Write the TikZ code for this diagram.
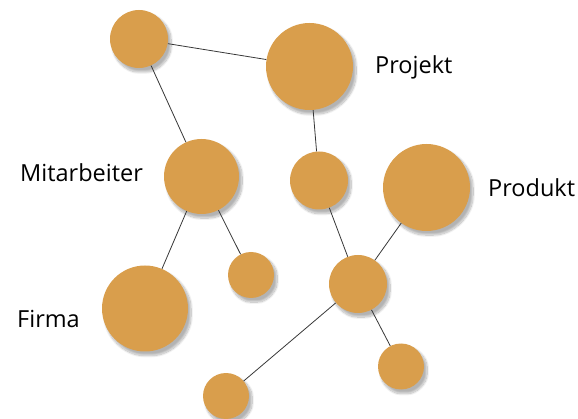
\documentclass[tikz,border=0pt]{standalone}
\usepackage{fontspec}
\setmainfont{Open Sans}
\usetikzlibrary{shadows.blur}
\definecolor{ball}{RGB}{217,158,76}
\definecolor{edge}{RGB}{55,55,55}
\tikzset{
  x=1pt,y=-1pt,
  ball/.style={circle,fill=ball,inner sep=0pt,minimum size=#1,
    blur shadow={shadow xshift=3pt,shadow yshift=-4pt,shadow blur steps=14,shadow blur extra rounding=4pt,shadow opacity=30}},
  link/.style={draw=edge,line width=0.8pt},
  lbl/.style={font=\fontsize{23.5}{28}\selectfont,inner sep=0pt,text=black}
}
\begin{document}
\begin{tikzpicture}
\useasboundingbox (0,0) rectangle (578,419);
\node[ball=58pt] (a) at (139,39) {};
\node[ball=87pt] (proj) at (309.5,66.5) {};
\node[ball=75pt] (mit) at (201.5,176.5) {};
\node[ball=58pt] (m) at (319,180.5) {};
\node[ball=87pt] (prod) at (426.5,187.5) {};
\node[ball=46pt] (s) at (251,275) {};
\node[ball=58pt] (c) at (358,284) {};
\node[ball=86pt] (firma) at (145,308.5) {};
\node[ball=46pt] (br) at (401,366.5) {};
\node[ball=46pt] (b) at (226,396) {};
\draw[link] (a) -- (proj);
\draw[link] (a) -- (mit);
\draw[link] (proj) -- (m);
\draw[link] (m) -- (c);
\draw[link] (prod) -- (c);
\draw[link] (mit) -- (firma);
\draw[link] (mit) -- (s);
\draw[link] (c) -- (br);
\draw[link] (c) -- (b);
\node[lbl,anchor=base west] (lp) at (375,74) {Projekt};
\node[lbl,anchor=base west] (lm) at (20,182) {Mitarbeiter};
\node[lbl,anchor=base west] (lpr) at (488,197) {Produkt};
\node[lbl,anchor=base west] (lf) at (17,328) {Firma};
\end{tikzpicture}
\end{document}
